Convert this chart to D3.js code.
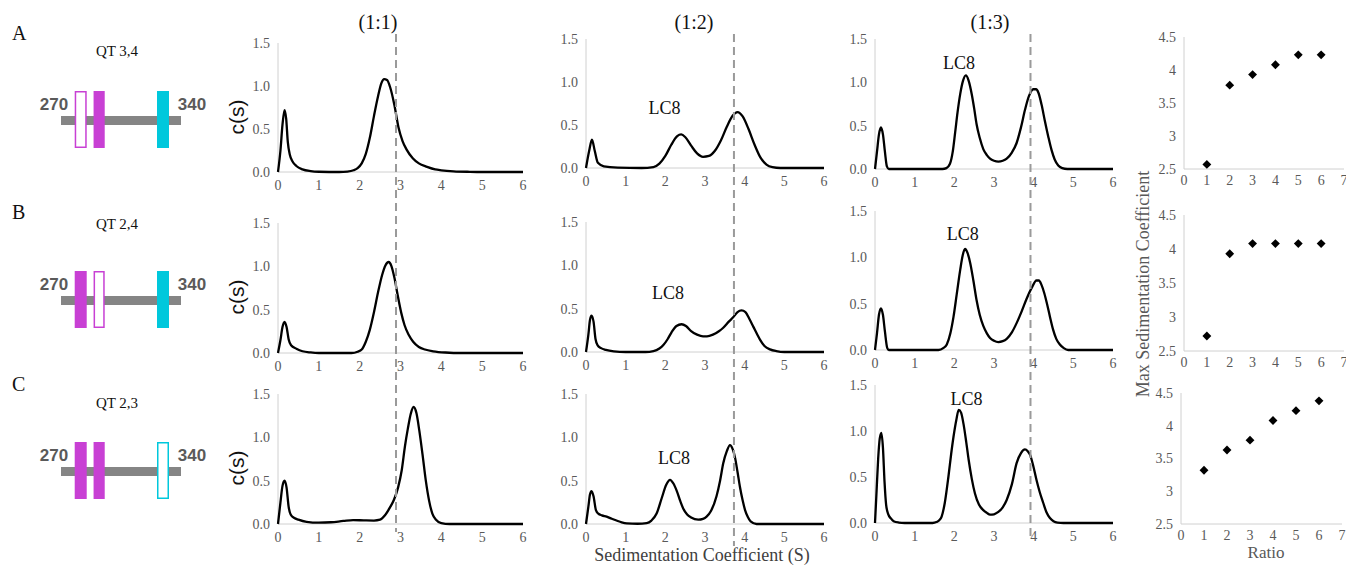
<!DOCTYPE html>
<html>
<head>
<meta charset="utf-8">
<script src="https://cdnjs.cloudflare.com/ajax/libs/d3/7.8.5/d3.min.js"></script>
<style>
  body { margin: 0; background: #fff; }
  svg { font-family: "Liberation Serif", "Times New Roman", serif; display: block; }
</style>
</head>
<body>
<div id="chart"></div>
<script>
// ---- data ----
const rowLetters = ["A", "B", "C"];
const constructs = ["QT 3,4", "QT 2,4", "QT 2,3"];
const ratioTitles = ["(1:1)", "(1:2)", "(1:3)"];

// QT motifs along residues 270-340
const motifs = [[278, 285], [289, 295.5], [326, 333]];
const motifColors = ["#c840d4", "#c840d4", "#00c8dc"];
const motifFilled = [[false, true, true], [true, false, true], [true, true, false]];

const sTicks = [0, 1, 2, 3, 4, 5, 6];
const cTicks = [0, 0.5, 1.0, 1.5];
const dashS = [2.89, 3.73, 3.92];   // reference s per ratio column

// c(s) traces, [s, c(s)]
const csA1 = [[0,0],[0.06,0.25],[0.11,0.55],[0.16,0.72],[0.2,0.62],[0.24,0.35],[0.29,0.2],[0.36,0.12],[0.45,0.07],[0.6,0.03],[0.8,0.01],[1.0,0.003],[1.5,0],[1.7,0.005],[1.85,0.02],[1.95,0.045],[2.05,0.1],[2.15,0.21],[2.25,0.4],[2.35,0.65],[2.45,0.88],[2.53,1.03],[2.6,1.08],[2.67,1.07],[2.75,0.98],[2.85,0.78],[2.95,0.52],[3.05,0.36],[3.15,0.26],[3.3,0.16],[3.45,0.1],[3.65,0.06],[3.85,0.03],[4.0,0.02],[4.3,0.008],[4.7,0.002],[5.0,0],[6,0]];
const csA2 = [[0,0],[0.08,0.2],[0.15,0.33],[0.22,0.2],[0.3,0.06],[0.45,0.02],[0.8,0.005],[1.4,0],[1.7,0.01],[1.85,0.05],[2.0,0.14],[2.15,0.27],[2.3,0.37],[2.4,0.39],[2.5,0.36],[2.65,0.26],[2.8,0.17],[2.95,0.13],[3.1,0.14],[3.25,0.2],[3.4,0.32],[3.55,0.48],[3.7,0.61],[3.82,0.65],[3.95,0.6],[4.1,0.45],[4.25,0.27],[4.4,0.12],[4.55,0.04],[4.7,0.01],[4.9,0],[6,0]];
const csA3 = [[0,0],[0.05,0.2],[0.1,0.4],[0.15,0.48],[0.2,0.4],[0.25,0.2],[0.3,0.03],[0.35,0],[1.7,0],[1.8,0.01],[1.89,0.06],[1.96,0.2],[2.02,0.42],[2.08,0.65],[2.15,0.87],[2.22,1.02],[2.29,1.08],[2.36,1.02],[2.44,0.86],[2.5,0.7],[2.56,0.52],[2.64,0.36],[2.73,0.23],[2.82,0.16],[2.9,0.12],[3.0,0.095],[3.11,0.085],[3.22,0.095],[3.32,0.12],[3.45,0.19],[3.57,0.3],[3.68,0.48],[3.78,0.68],[3.88,0.84],[3.99,0.92],[4.06,0.92],[4.12,0.88],[4.2,0.74],[4.28,0.56],[4.37,0.37],[4.45,0.22],[4.53,0.11],[4.62,0.04],[4.72,0.01],[4.85,0],[6,0]];

const csB1 = [[0,0],[0.06,0.15],[0.11,0.3],[0.16,0.36],[0.21,0.3],[0.26,0.16],[0.32,0.09],[0.45,0.05],[0.6,0.02],[0.8,0.006],[1.0,0],[1.8,0],[1.95,0.015],[2.05,0.04],[2.15,0.13],[2.25,0.27],[2.35,0.47],[2.45,0.7],[2.55,0.9],[2.63,1.01],[2.71,1.05],[2.78,1.0],[2.85,0.87],[2.93,0.67],[3.02,0.46],[3.1,0.32],[3.2,0.21],[3.31,0.13],[3.45,0.07],[3.6,0.04],[3.8,0.02],[4.1,0.006],[4.5,0],[6,0]];
const csB2 = [[0,0],[0.06,0.2],[0.1,0.37],[0.14,0.42],[0.19,0.35],[0.24,0.15],[0.29,0.08],[0.38,0.045],[0.5,0.025],[0.7,0.008],[1.0,0],[1.5,0],[1.7,0.01],[1.85,0.04],[1.95,0.08],[2.06,0.15],[2.16,0.23],[2.28,0.3],[2.41,0.32],[2.52,0.3],[2.65,0.24],[2.8,0.2],[2.95,0.18],[3.05,0.18],[3.2,0.2],[3.35,0.24],[3.46,0.28],[3.6,0.35],[3.71,0.4],[3.82,0.46],[3.92,0.48],[4.02,0.46],[4.12,0.38],[4.22,0.29],[4.32,0.2],[4.39,0.14],[4.5,0.07],[4.64,0.03],[4.8,0.01],[5.0,0],[6,0]];
const csB3 = [[0,0],[0.05,0.18],[0.1,0.38],[0.15,0.45],[0.2,0.38],[0.25,0.2],[0.31,0.02],[0.35,0],[1.6,0],[1.72,0.02],[1.81,0.06],[1.9,0.18],[1.98,0.36],[2.06,0.6],[2.15,0.87],[2.21,1.02],[2.27,1.09],[2.33,1.05],[2.4,0.94],[2.48,0.75],[2.56,0.54],[2.64,0.38],[2.73,0.26],[2.82,0.18],[2.9,0.13],[3.0,0.1],[3.11,0.086],[3.22,0.095],[3.32,0.12],[3.45,0.19],[3.57,0.29],[3.7,0.42],[3.82,0.55],[3.95,0.67],[4.07,0.75],[4.13,0.75],[4.2,0.7],[4.27,0.61],[4.33,0.51],[4.41,0.36],[4.49,0.22],[4.57,0.12],[4.66,0.06],[4.76,0.02],[4.87,0],[6,0]];

const csC1 = [[0,0],[0.06,0.25],[0.11,0.44],[0.16,0.5],[0.21,0.42],[0.26,0.2],[0.31,0.11],[0.4,0.07],[0.5,0.05],[0.7,0.025],[1.0,0.015],[1.3,0.02],[1.6,0.035],[1.84,0.045],[2.1,0.042],[2.35,0.04],[2.5,0.05],[2.62,0.1],[2.74,0.19],[2.84,0.28],[2.94,0.42],[3.03,0.62],[3.11,0.9],[3.18,1.1],[3.25,1.27],[3.32,1.35],[3.39,1.28],[3.46,1.08],[3.54,0.8],[3.62,0.5],[3.7,0.27],[3.78,0.12],[3.87,0.05],[4.0,0.01],[4.2,0],[6,0]];
const csC2 = [[0,0],[0.06,0.2],[0.1,0.34],[0.14,0.38],[0.19,0.32],[0.25,0.16],[0.31,0.12],[0.4,0.1],[0.52,0.085],[0.65,0.06],[0.77,0.04],[0.9,0.02],[1.03,0.008],[1.3,0.003],[1.53,0.01],[1.65,0.04],[1.78,0.12],[1.91,0.3],[2.02,0.45],[2.12,0.51],[2.2,0.47],[2.29,0.38],[2.38,0.26],[2.45,0.18],[2.55,0.11],[2.65,0.075],[2.83,0.05],[2.95,0.06],[3.04,0.085],[3.15,0.15],[3.29,0.32],[3.38,0.5],[3.46,0.7],[3.55,0.84],[3.63,0.91],[3.7,0.86],[3.76,0.76],[3.82,0.6],[3.88,0.43],[3.95,0.27],[4.01,0.16],[4.08,0.08],[4.15,0.03],[4.3,0],[6,0]];
const csC3 = [[0,0],[0.04,0.35],[0.08,0.7],[0.12,0.92],[0.16,0.98],[0.2,0.82],[0.24,0.45],[0.28,0.2],[0.33,0.1],[0.4,0.05],[0.47,0.02],[0.6,0.005],[0.75,0],[1.45,0],[1.55,0.01],[1.62,0.03],[1.68,0.07],[1.76,0.22],[1.85,0.5],[1.92,0.75],[1.98,0.94],[2.05,1.12],[2.11,1.23],[2.17,1.2],[2.23,1.08],[2.3,0.88],[2.36,0.69],[2.44,0.48],[2.52,0.32],[2.62,0.2],[2.73,0.14],[2.82,0.11],[2.9,0.09],[3.0,0.095],[3.11,0.12],[3.22,0.17],[3.32,0.25],[3.45,0.42],[3.57,0.65],[3.68,0.76],[3.78,0.8],[3.85,0.78],[3.91,0.74],[3.99,0.62],[4.07,0.47],[4.15,0.34],[4.24,0.22],[4.32,0.12],[4.41,0.054],[4.5,0.02],[4.6,0.005],[4.75,0],[6,0]];

const traces = [[csA1, csA2, csA3], [csB1, csB2, csB3], [csC1, csC2, csC3]];

// "LC8" annotations [s, c] (null = none)
const lc8Pos = [[null, [1.98, 0.7], [2.12, 1.23]], [null, [2.07, 0.69], [2.21, 1.26]], [null, [2.22, 0.76], [2.31, 1.35]]];

// max sedimentation coefficient vs ratio
const ratios = [1, 2, 3, 4, 5, 6];
const ratioTicks = [0, 1, 2, 3, 4, 5, 6, 7];
const maxTicks = [2.5, 3, 3.5, 4, 4.5];
const maxSA = [2.57, 3.77, 3.93, 4.08, 4.23, 4.23];
const maxSB = [2.72, 3.93, 4.08, 4.08, 4.08, 4.08];
const maxSC = [3.32, 3.63, 3.78, 4.08, 4.23, 4.38];
const maxS = [maxSA, maxSB, maxSC];

// ---- layout ----
const width = 1346, height = 568;
const colX = [[278, 523], [586, 824], [875, 1113]];
const rowY = [[[172, 43], [168, 39], [169, 39]],
              [[353, 223], [352, 222], [350, 211]],
              [[524, 394], [524, 394], [523, 385]]];
const scX = [[1184, 1344], [1184, 1344], [1181, 1342]];
const scY = [[169, 37], [351, 215], [524, 393]];
const rowOffset = [0, 180, 351];
const qtBaseline = [56, 229, 408];
const letterBaseline = [40, 219, 391];
const cLabelY = [117, 297, 468];

const tickColor = "#595959";
const axisColor = "#d0d0d0";

const svg = d3.select("#chart").append("svg")
  .attr("width", width)
  .attr("height", height);

// schematics
const resX = d3.scaleLinear().domain([270, 340]).range([61, 181]);
rowLetters.forEach((letter, r) => {
  const g = svg.append("g").attr("transform", `translate(0,${rowOffset[r]})`);
  svg.append("text").attr("x", 12).attr("y", letterBaseline[r])
    .attr("font-size", 20).attr("fill", "#111").text(letter);
  svg.append("text").attr("x", 117).attr("y", qtBaseline[r])
    .attr("text-anchor", "middle").attr("font-size", 15).attr("fill", "#111").text(constructs[r]);

  g.append("rect").attr("x", resX(270)).attr("y", 116)
    .attr("width", resX(340) - resX(270)).attr("height", 9).attr("fill", "#858585");

  motifs.forEach((m, i) => {
    const filled = motifFilled[r][i];
    g.append("rect")
      .attr("x", resX(m[0]) + (filled ? 0 : 0.75))
      .attr("y", 91 + (filled ? 0 : 0.75))
      .attr("width", resX(m[1]) - resX(m[0]) - (filled ? 0 : 1.5))
      .attr("height", 57 - (filled ? 0 : 1.5))
      .attr("fill", filled ? motifColors[i] : "#fff")
      .attr("stroke", filled ? "none" : motifColors[i])
      .attr("stroke-width", 1.5);
  });

  g.append("text").attr("x", 54).attr("y", 110).attr("text-anchor", "middle")
    .attr("font-family", "Liberation Sans, Arial, sans-serif").attr("font-weight", "bold")
    .attr("font-size", 17).attr("fill", "#5a5a5a").text("270");
  g.append("text").attr("x", 192).attr("y", 110).attr("text-anchor", "middle")
    .attr("font-family", "Liberation Sans, Arial, sans-serif").attr("font-weight", "bold")
    .attr("font-size", 17).attr("fill", "#5a5a5a").text("340");
});

// c(s) panels
const line = d3.line().curve(d3.curveMonotoneX);

for (let c = 0; c < 3; c++) {
  const x = d3.scaleLinear().domain([0, 6]).range(colX[c]);

  svg.append("text").attr("x", [378, 694, 990][c]).attr("y", 29)
    .attr("text-anchor", "middle").attr("font-size", 20).attr("fill", "#111")
    .text(ratioTitles[c]);

  for (let r = 0; r < 3; r++) {
    const y = d3.scaleLinear().domain([0, 1.5]).range(rowY[r][c]);
    const g = svg.append("g");

    g.append("line").attr("x1", x(0)).attr("x2", x(0)).attr("y1", y(0)).attr("y2", y(1.5))
      .attr("stroke", axisColor);
    g.append("line").attr("x1", x(0)).attr("x2", x(6)).attr("y1", y(0)).attr("y2", y(0))
      .attr("stroke", axisColor);

    g.selectAll(".yt").data(cTicks).enter().append("text")
      .attr("x", x(0) - 8).attr("y", d => y(d)).attr("dy", "0.35em")
      .attr("text-anchor", "end").attr("font-size", 14).attr("fill", tickColor)
      .text(d => d3.format(".1f")(d));
    g.selectAll(".xt").data(sTicks).enter().append("text")
      .attr("x", d => x(d)).attr("y", y(0) + 18)
      .attr("text-anchor", "middle").attr("font-size", 14).attr("fill", tickColor)
      .text(d => d);

    line.x(d => x(d[0])).y(d => y(d[1]));
    g.append("path").datum(traces[r][c]).attr("d", line)
      .attr("fill", "none").attr("stroke", "#000").attr("stroke-width", 2.3)
      .attr("stroke-linejoin", "round");

    const lp = lc8Pos[r][c];
    if (lp) {
      g.append("text").attr("x", x(lp[0])).attr("y", y(lp[1])).attr("dy", "0.35em")
        .attr("text-anchor", "middle").attr("font-size", 18).attr("fill", "#111").text("LC8");
    }

    if (c === 0) {
      svg.append("text")
        .attr("transform", `translate(244,${cLabelY[r]}) rotate(-90)`)
        .attr("text-anchor", "middle")
        .attr("font-family", "Liberation Sans, Arial, sans-serif")
        .attr("font-size", 21).attr("fill", "#111").text("c(s)");
    }
  }

  // dashed reference line spanning all three rows
  svg.append("line")
    .attr("x1", x(dashS[c])).attr("x2", x(dashS[c]))
    .attr("y1", 34).attr("y2", [532, 546, 540][c])
    .attr("stroke", "#9a9a9a").attr("stroke-width", 2)
    .attr("stroke-dasharray", "8,5");
}

svg.append("text").attr("x", 702).attr("y", 561)
  .attr("text-anchor", "middle").attr("font-size", 18).attr("fill", "#404040")
  .text("Sedimentation Coefficient (S)");

// max sedimentation scatter
const diamond = d3.symbol(d3.symbolDiamond2, 50);
for (let r = 0; r < 3; r++) {
  const x = d3.scaleLinear().domain([0, 7]).range(scX[r]);
  const y = d3.scaleLinear().domain([2.5, 4.5]).range(scY[r]);
  const g = svg.append("g");

  g.append("line").attr("x1", x(0)).attr("x2", x(0)).attr("y1", y(2.5)).attr("y2", y(4.5))
    .attr("stroke", axisColor);
  g.append("line").attr("x1", x(0)).attr("x2", x(7)).attr("y1", y(2.5)).attr("y2", y(2.5))
    .attr("stroke", axisColor);

  g.selectAll(".yt").data(maxTicks).enter().append("text")
    .attr("x", x(0) - 8).attr("y", d => y(d)).attr("dy", "0.35em")
    .attr("text-anchor", "end").attr("font-size", 14).attr("fill", tickColor)
    .text(d => d);
  g.selectAll(".xt").data(ratioTicks).enter().append("text")
    .attr("x", d => x(d)).attr("y", y(2.5) + 16)
    .attr("text-anchor", "middle").attr("font-size", 14).attr("fill", tickColor)
    .text(d => d);

  g.selectAll(".pt").data(ratios).enter().append("path")
    .attr("d", diamond)
    .attr("transform", (d, i) => `translate(${x(d)},${y(maxS[r][i])})`)
    .attr("fill", "#000");
}

svg.append("text")
  .attr("transform", "translate(1149,284) rotate(-90)")
  .attr("text-anchor", "middle").attr("font-size", 18).attr("fill", tickColor)
  .text("Max Sedimentation Coefficient");
svg.append("text").attr("x", 1266).attr("y", 558)
  .attr("text-anchor", "middle").attr("font-size", 17).attr("fill", tickColor)
  .text("Ratio");
</script>
</body>
</html>
